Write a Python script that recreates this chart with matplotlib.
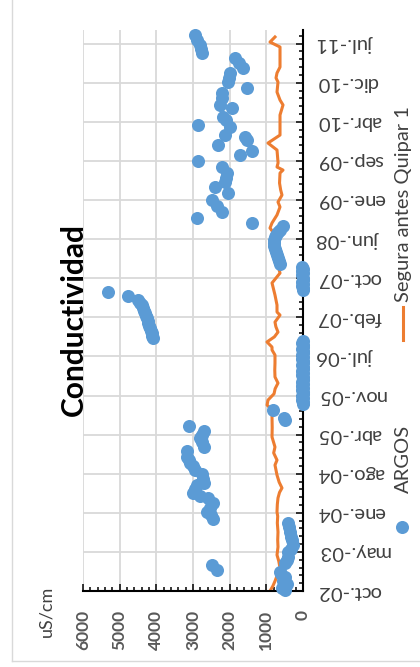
import matplotlib
matplotlib.use('Agg')
from matplotlib import pyplot as plt
from matplotlib.lines import Line2D
from matplotlib.ticker import MultipleLocator


# dias desde 2002-10-01
FECHAS = [
    'oct.-02', 'may.-03', 'ene.-04', 'ago.-04', 'abr.-05',
    'nov.-05', 'jul.-06', 'feb.-07', 'oct.-07', 'jun.-08',
    'ene.-09', 'sep.-09', 'abr.-10', 'dic.-10', 'jul.-11',
]
PASO_DIAS = 230

ARGOS_DIAS = [
    6, 20, 40, 60, 80, 100, 110,
    124, 153,
    165, 182, 200, 229, 250, 271, 300, 320, 347, 375, 400,
    423, 445, 465, 490, 518, 547, 560, 576, 600, 623, 635, 660, 688, 712, 735,
    753, 770, 790, 823, 847, 875, 900, 920, 941, 970,
    1006, 1018, 1065,
    1100, 1112, 1124, 1136, 1148, 1160, 1172, 1184, 1196, 1208, 1220, 1232,
    1244, 1256, 1268, 1280, 1292, 1304, 1316, 1328, 1340, 1352, 1364, 1376,
    1388, 1400, 1412, 1424, 1436, 1448, 1460, 1472,
    1488, 1500, 1515, 1530, 1547, 1560, 1575, 1590, 1606, 1620, 1635, 1650,
    1665, 1680, 1695, 1712, 1735, 1759,
    1772, 1784, 1796, 1808, 1820, 1832, 1844, 1856, 1868, 1880, 1892, 1904,
    1923, 1940, 1959, 1975, 1994, 2010, 2029, 2047, 2065, 2080, 2094, 2110,
    2123, 2147,
    2165, 2194,
    2229, 2265, 2300, 2341, 2376, 2406, 2430, 2459, 2494, 2529, 2565, 2588,
    2623, 2653, 2670, 2682, 2729, 2741, 2770, 2788, 2841, 2859, 2900, 2929,
    2959, 2994, 3020, 3047, 3076, 3105, 3135, 3165, 3190, 3211, 3240, 3270,
]
ARGOS_US = [
    491, 560, 436, 545, 500, 600, 627,
    2345, 2482,
    491, 436, 420, 409, 340, 273, 300, 330, 355, 380, 409,
    2454, 2500, 2618, 2540, 2454, 2591, 2800, 3000, 2950, 2891, 2700, 2720, 2754, 2945, 3000,
    3082, 3120, 3164, 3164, 2700, 2760, 2809, 2750, 2700, 3109,
    491, 518, 818,
    10, 0, 20, 5, 15, 0, 10, 25, 0, 15, 5, 20,
    0, 10, 15, 5, 20, 0, 10, 15, 5, 0, 20, 10,
    15, 0, 5, 20, 10, 0, 15, 10,
    4091, 4105, 4120, 4150, 4173, 4195, 4215, 4235, 4254, 4285, 4310, 4335,
    4364, 4400, 4440, 4500, 4773, 5318,
    10, 0, 20, 5, 15, 0, 10, 25, 0, 15, 5, 20,
    627, 650, 682, 710, 736, 770, 791, 800, 791, 760, 736, 680,
    627, 545,
    1391, 2891,
    2209, 2350, 2482, 2045, 2400, 2127, 2100, 2073, 2209, 2863, 1718, 1391,
    2318, 1527, 1582, 2127, 1991, 2863, 2100, 2182, 1936, 2263, 2200, 2209,
    1527, 2045, 2030, 1991, 1636, 1750, 1854, 2754, 2790, 2809, 2880, 2945,
]

SEGURA_DIAS = [
    0, 30, 60, 100, 135, 175, 212, 259, 300, 347, 400, 440, 465, 510, 547,
    580, 606, 640, 682, 741, 770, 812, 847, 906, 960, 1023, 1065, 1094, 1123,
    1160, 1190, 1223, 1259, 1300, 1341, 1388, 1418, 1435, 1465, 1495, 1523,
    1555, 1582, 1623, 1641, 1682, 1741, 1812, 1870, 1930, 1990, 2050, 2100,
    2135, 2165, 2212, 2259, 2288, 2329, 2360, 2400, 2459, 2476, 2494, 2518,
    2594, 2635, 2682, 2712, 2800, 2859, 2888, 2935, 2994, 3018, 3047, 3082,
    3123, 3200, 3229, 3259,
]
SEGURA_US = [
    900, 820, 760, 690, 627, 660, 709, 682, 690, 682, 700, 690, 709, 700, 682,
    640, 573, 650, 709, 764, 709, 800, 764, 845, 840, 845, 845, 980, 955,
    790, 760, 682, 764, 770, 764, 764, 845, 845, 982, 780, 682,
    740, 764, 627, 709, 709, 764, 845, 627, 700, 680, 720, 780,
    900, 845, 709, 627, 682, 573, 610, 640, 627, 545, 709, 680,
    709, 955, 627, 627, 627, 545, 627, 709, 682, 736, 709, 627,
    627, 627, 900, 764,
]

AZUL = '#5B9BD5'
NARANJA = '#ED7D31'
GRIS = '#595959'
W, H = 420, 667


def fx(px):
    return px / W


def fy(py):
    return 1 - py / H


def plot():
    plt.rcParams['font.family'] = ['Lato', 'DejaVu Sans']
    fig = plt.figure(figsize=(W / 100, H / 100), dpi=100)

    ax = fig.add_axes([fx(83), fy(591), fx(303) - fx(83), fy(30) - fy(591)])
    ax.plot(SEGURA_US, SEGURA_DIAS, color=NARANJA, lw=2.2, zorder=2,
            solid_joinstyle='round')
    ax.plot(ARGOS_US, ARGOS_DIAS, 'o', color=AZUL, ms=9.4, mec='none',
            zorder=3, clip_on=False)

    ax.set_xlim(6000, 0)
    ax.set_ylim(0, 3300)
    ax.set_xticks(range(0, 7000, 1000))
    ax.xaxis.set_minor_locator(MultipleLocator(200))
    ax.set_yticks([k * PASO_DIAS for k in range(len(FECHAS))])
    ax.set_yticklabels(FECHAS)
    ax.yaxis.set_minor_locator(MultipleLocator(PASO_DIAS / 5))

    ax.grid(True, which='major', color='#d9d9d9', lw=1.3)
    ax.set_axisbelow(True)
    for s in ['top', 'left']:
        ax.spines[s].set_visible(False)
    for s in ['right', 'bottom']:
        ax.spines[s].set_color('black')
        ax.spines[s].set_linewidth(1.5)

    ax.yaxis.tick_right()
    ax.tick_params(axis='y', which='both', direction='in', right=True, left=False,
                   labelright=True, labelleft=False, color='black', width=1.1)
    ax.tick_params(axis='y', which='major', length=5, pad=10, labelsize=14.5,
                   labelcolor='#404040')
    ax.tick_params(axis='y', which='minor', length=3)
    for t in ax.get_yticklabels():
        t.set_rotation(180)
        t.set_va('center')

    ax.tick_params(axis='x', which='both', direction='in', color='black', width=1.1)
    ax.tick_params(axis='x', which='major', length=5, pad=13.5, labelsize=12.5,
                   labelcolor=GRIS)
    ax.tick_params(axis='x', which='minor', length=3)
    for t in ax.get_xticklabels():
        t.set_rotation(90)
        t.set_fontweight('bold')
        t.set_va('top')

    fig.text(fx(74), fy(320), 'Conductividad', rotation=90, ha='center',
             va='center', fontsize=21.5, fontweight='bold', color='black')
    fig.text(fx(46), fy(637), 'uS/cm', rotation=90, ha='center', va='bottom',
             fontsize=13, color='#404040')

    # leyenda (girada como el resto del grafico)
    fig.add_artist(Line2D([fx(403), fx(403)], [fy(340), fy(307)], color=NARANJA,
                          lw=2.2, transform=fig.transFigure))
    fig.text(fx(403), fy(302), 'Segura antes Quipar 1', rotation=90,
             ha='center', va='bottom', fontsize=14.5, color='#404040')
    fig.add_artist(Line2D([fx(402)], [fy(527)], marker='o', ms=9.4, color=AZUL,
                          mec='none', transform=fig.transFigure))
    fig.text(fx(403), fy(493), 'ARGOS', rotation=90, ha='center', va='bottom',
             fontsize=14.5, color='#404040')

    # borde del area del grafico
    fig.add_artist(Line2D([fx(12), fx(12)], [fy(661), 1], color='#d9d9d9', lw=1,
                          transform=fig.transFigure))
    fig.add_artist(Line2D([fx(12), 1], [fy(661), fy(661)], color='#d9d9d9', lw=1,
                          transform=fig.transFigure))

    fig.savefig('out.png', dpi=100)


def main():
    plot()


if __name__ == '__main__':
    main()
